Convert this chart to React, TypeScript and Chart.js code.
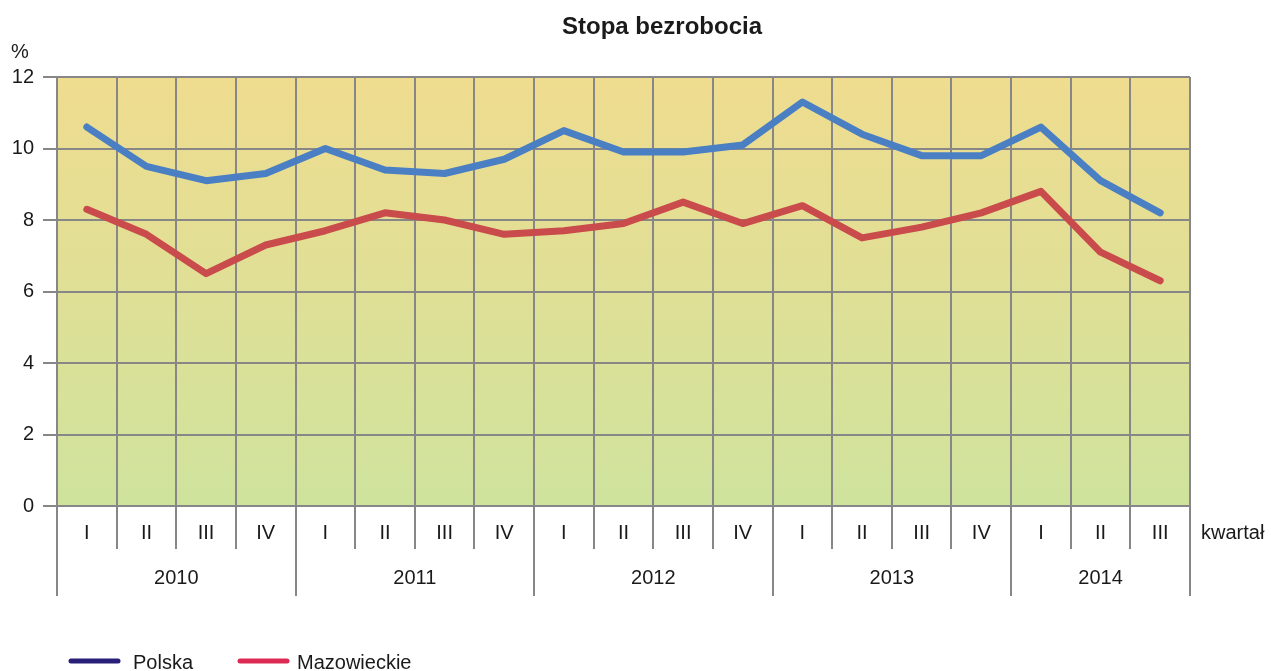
import React, { useEffect, useRef } from "react";
import { Chart, registerables } from "chart.js";

Chart.register(...registerables);

const quarters = ["I", "II", "III", "IV", "I", "II", "III", "IV", "I", "II", "III", "IV", "I", "II", "III", "IV", "I", "II", "III"];
const years = ["2010", "2011", "2012", "2013", "2014"];
const quartersPerYear = [4, 4, 4, 4, 3];
const polska = [10.6, 9.5, 9.1, 9.3, 10.0, 9.4, 9.3, 9.7, 10.5, 9.9, 9.9, 10.1, 11.3, 10.4, 9.8, 9.8, 10.6, 9.1, 8.2];
const mazowieckie = [8.3, 7.6, 6.5, 7.3, 7.7, 8.2, 8.0, 7.6, 7.7, 7.9, 8.5, 7.9, 8.4, 7.5, 7.8, 8.2, 8.8, 7.1, 6.3];
const yTicks = [0, 2, 4, 6, 8, 10, 12];

const FONT = "'Liberation Sans', Arial, sans-serif";
const GRID = "#878787";

const decorPlugin = {
  id: "decor",
  beforeDraw(chart: any) {
    const { ctx, chartArea } = chart;
    const g = ctx.createLinearGradient(0, chartArea.top, 0, chartArea.bottom);
    g.addColorStop(0, "#efdc8f");
    g.addColorStop(1, "#cfe39d");
    ctx.save();
    ctx.fillStyle = g;
    ctx.fillRect(chartArea.left, chartArea.top, chartArea.right - chartArea.left, chartArea.bottom - chartArea.top);
    ctx.restore();
  },
  afterDraw(chart: any) {
    const { ctx, chartArea } = chart;
    const x = chart.scales.x;
    const n = quarters.length;
    const w = (chartArea.right - chartArea.left) / n;
    const bottom = chartArea.bottom;
    ctx.save();
    const yearBounds = new Set<number>();
    let acc = 0;
    yearBounds.add(0);
    quartersPerYear.forEach((q) => {
      acc += q;
      yearBounds.add(acc);
    });
    ctx.strokeStyle = GRID;
    ctx.lineWidth = 2;
    for (let i = 0; i <= n; i++) {
      const px = Math.round(chartArea.left + i * w);
      ctx.beginPath();
      ctx.moveTo(px, bottom);
      ctx.lineTo(px, yearBounds.has(i) ? bottom + 90 : bottom + 43);
      ctx.stroke();
    }
    ctx.fillStyle = "#1a1a1a";
    ctx.font = `20px ${FONT}`;
    ctx.textAlign = "center";
    ctx.textBaseline = "middle";
    quarters.forEach((q, i) => {
      ctx.fillText(q, x.getPixelForValue(i), bottom + 27);
    });
    let start = 0;
    years.forEach((yr, k) => {
      const cnt = quartersPerYear[k];
      const cx = chartArea.left + (start + cnt / 2) * w;
      ctx.fillText(yr, cx, bottom + 72);
      start += cnt;
    });
    ctx.textAlign = "left";
    ctx.fillText("kwartał", chartArea.right + 11, bottom + 27);
    ctx.fillText("%", 11, 52);
    ctx.font = `bold 24px ${FONT}`;
    ctx.textAlign = "center";
    ctx.fillText("Stopa bezrobocia", 662, 27);
    const items = [
      { label: "Polska", color: "#2a1f78", x0: 71, x1: 118, tx: 133 },
      { label: "Mazowieckie", color: "#dc2a52", x0: 240, x1: 287, tx: 297 },
    ];
    ctx.font = `20px ${FONT}`;
    ctx.textAlign = "left";
    items.forEach((it) => {
      ctx.strokeStyle = it.color;
      ctx.lineWidth = 5;
      ctx.lineCap = "round";
      ctx.beginPath();
      ctx.moveTo(it.x0, 661);
      ctx.lineTo(it.x1, 661);
      ctx.stroke();
      ctx.fillStyle = "#1a1a1a";
      ctx.fillText(it.label, it.tx, 663);
    });
    ctx.restore();
  },
};

export default function App() {
  const ref = useRef<HTMLCanvasElement>(null);
  useEffect(() => {
    if (!ref.current) return;
    const chart = new Chart(ref.current, {
      type: "line",
      data: {
        labels: quarters.map((q, i) => `${i}`),
        datasets: [
          {
            label: "Polska",
            data: polska,
            borderColor: "#4a7fc4",
            borderWidth: 7,
            pointRadius: 0,
            tension: 0,
            borderCapStyle: "round",
            borderJoinStyle: "round",
          },
          {
            label: "Mazowieckie",
            data: mazowieckie,
            borderColor: "#c94b4b",
            borderWidth: 7,
            pointRadius: 0,
            tension: 0,
            borderCapStyle: "round",
            borderJoinStyle: "round",
          },
        ],
      },
      options: {
        animation: false,
        responsive: false,
        maintainAspectRatio: false,
        layout: { padding: { left: 0, right: 81, top: 77, bottom: 0 } },
        plugins: {
          legend: { display: false },
          title: { display: false },
          tooltip: { enabled: false },
        },
        scales: {
          x: {
            type: "category",
            offset: true,
            grid: { offset: true, color: GRID, lineWidth: 2, drawTicks: false },
            border: { display: true, color: GRID, width: 2 },
            ticks: { display: false },
            afterFit(scale: any) {
              scale.height = 165;
            },
          },
          y: {
            min: 0,
            max: 12,
            afterBuildTicks(scale: any) {
              scale.ticks = yTicks.map((v) => ({ value: v }));
            },
            grid: { color: GRID, lineWidth: 2, tickLength: 14, drawTicks: true },
            border: { display: true, color: GRID, width: 2 },
            ticks: {
              color: "#1a1a1a",
              font: { family: FONT, size: 20 },
              padding: 9,
            },
            afterFit(scale: any) {
              scale.width = 57;
            },
          },
        },
      },
      plugins: [decorPlugin],
    } as any);
    return () => chart.destroy();
  }, []);
  return (
    <div style={{ position: "fixed", left: 0, top: 0, width: 1271, height: 671, background: "#fff" }}>
      <canvas ref={ref} width={1271} height={671} style={{ width: 1271, height: 671, display: "block" }} />
    </div>
  );
}
